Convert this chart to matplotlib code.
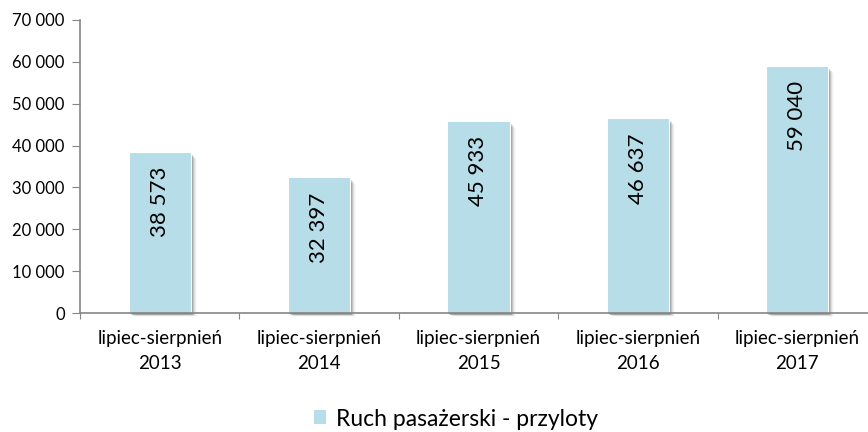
import matplotlib
matplotlib.use("Agg")
import matplotlib.pyplot as plt
from matplotlib.patches import Rectangle

categories = ["lipiec-sierpnień\n2013", "lipiec-sierpnień\n2014", "lipiec-sierpnień\n2015",
              "lipiec-sierpnień\n2016", "lipiec-sierpnień\n2017"]
values = [38573, 32397, 45933, 46637, 59040]
labels = ["38 573", "32 397", "45 933", "46 637", "59 040"]
yticks = [0, 10000, 20000, 30000, 40000, 50000, 60000, 70000]
series_name = "Ruch pasażerski - przyloty"

plt.rcParams['font.family'] = ['Lato', 'DejaVu Sans']

bar_color = "#b7dde8"
axis_color = "#868686"

fig = plt.figure(figsize=(8.68, 4.32), dpi=100)
ax = fig.add_axes([80 / 868, 119 / 432, 797 / 868, 293 / 432])

x = list(range(len(values)))
width = 0.39
px_x = 1 / 159.3      # one pixel in x data units
px_y = 70000 / 293    # one pixel in y data units

# soft shadow on the right / bottom of each bar
for xi, v in zip(x, values):
    for k, a in enumerate([0.22, 0.16, 0.11, 0.07, 0.04, 0.02]):
        ax.add_patch(Rectangle((xi - width / 2 + (1 + k) * px_x, -(1 + k * 0.6) * px_y),
                               width, v - (1 + k * 0.4) * px_y,
                               facecolor="black", alpha=a, edgecolor="none", zorder=1,
                               clip_on=False))

bars = ax.bar(x, values, width=width, color=bar_color, edgecolor="white", linewidth=0.8, zorder=2)

for b, lab in zip(bars, labels):
    ax.annotate(lab, (b.get_x() + b.get_width() / 2, b.get_height()),
                xytext=(0, -11), textcoords="offset points", rotation=90,
                ha="center", va="top", fontsize=16, color="black", zorder=3)

ax.set_xlim(-0.5, len(values) - 0.5)
ax.set_ylim(0, 70000)
ax.set_yticks(yticks)
ax.set_yticklabels([f"{t:,}".replace(",", " ") for t in yticks], fontsize=12)
ax.set_xticks([i - 0.5 for i in range(len(values) + 1)])
ax.set_xticklabels([])
ax.set_xticks(x, minor=True)
ax.set_xticklabels(categories, minor=True, fontsize=13.5, linespacing=1.6)
ax.tick_params(axis="x", which="minor", length=0, pad=12)
ax.tick_params(axis="x", which="major", length=4, color=axis_color, direction="out")
ax.tick_params(axis="y", length=6, color=axis_color, direction="out", pad=5)

for s in ["top", "right"]:
    ax.spines[s].set_visible(False)
for s in ["left", "bottom"]:
    ax.spines[s].set_color(axis_color)
    ax.spines[s].set_linewidth(1.2)

handle = Rectangle((0, 0), 1, 1, facecolor=bar_color, edgecolor="none")
fig.legend([handle], [series_name], loc="center", bbox_to_anchor=(456 / 868, 1 - 419 / 432),
           frameon=False, fontsize=16.5, handlelength=0.55, handleheight=0.55, handletextpad=0.45,
           borderpad=0)

fig.savefig("out.png", dpi=100)
